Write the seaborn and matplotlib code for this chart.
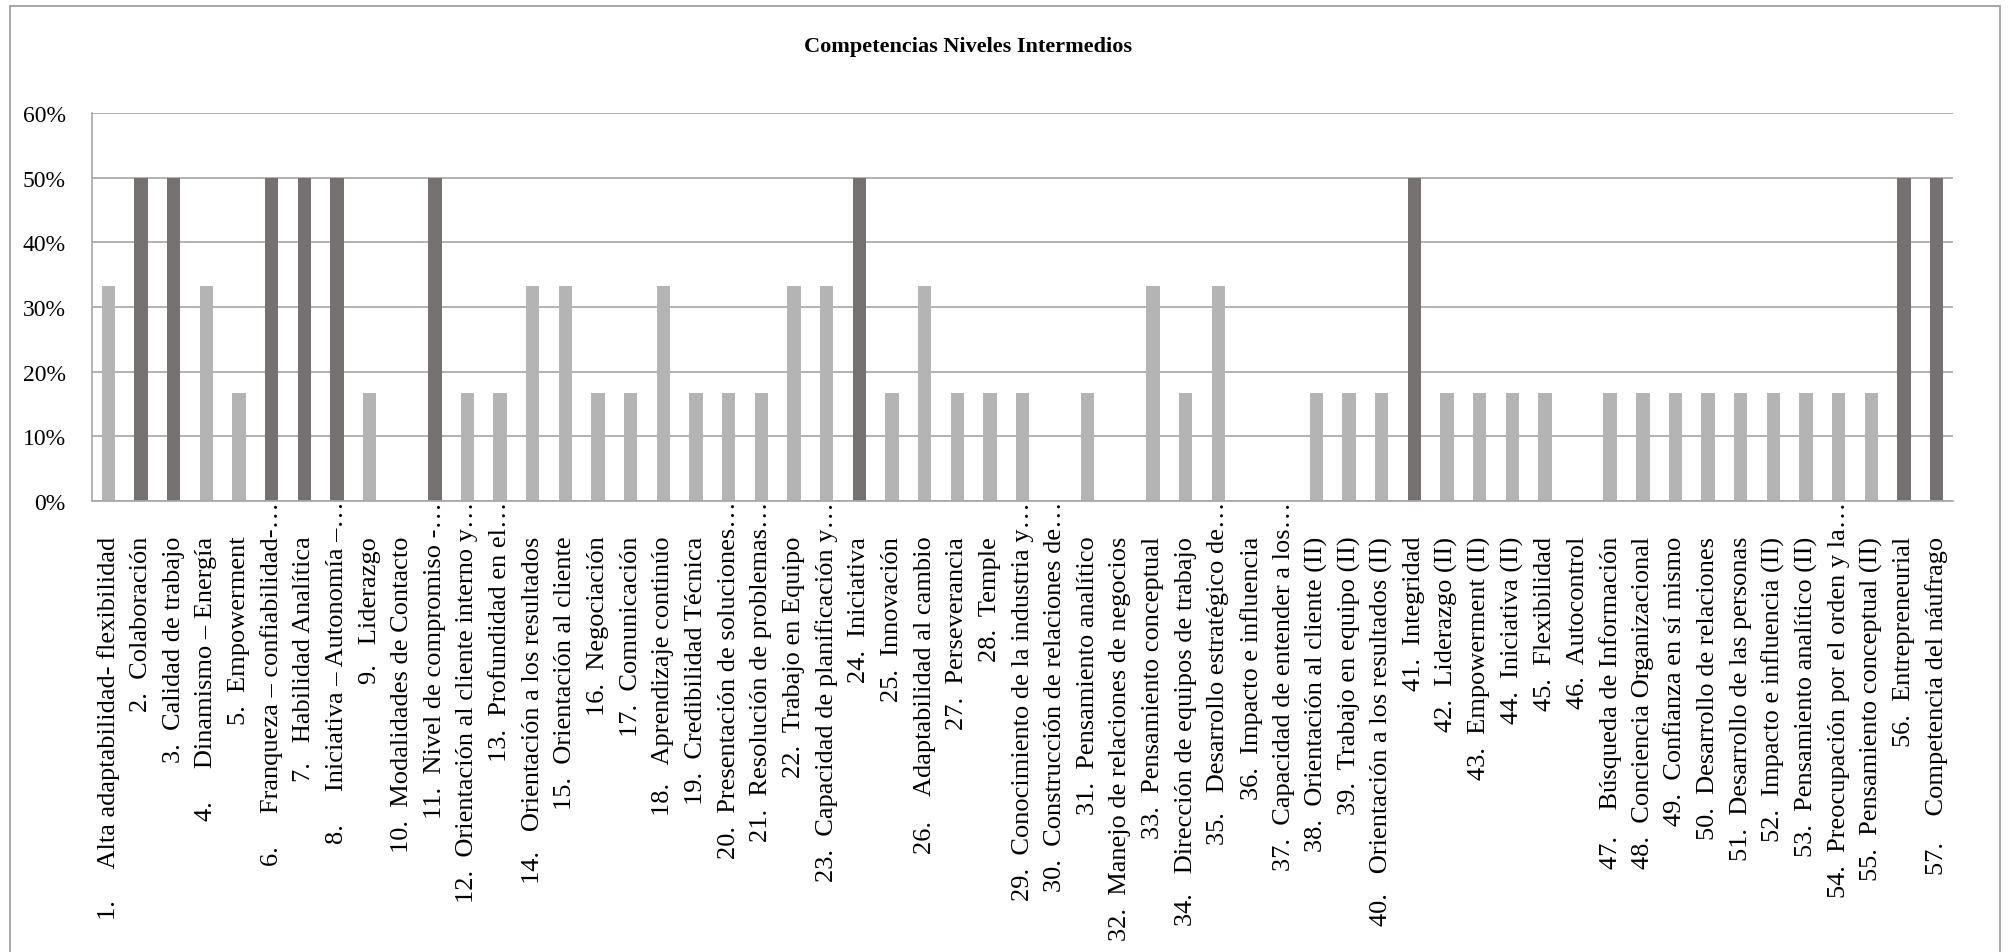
import matplotlib
matplotlib.use("Agg")
import matplotlib.pyplot as plt
import seaborn as sns
import pandas as pd
from matplotlib.patches import Rectangle
from matplotlib.ticker import PercentFormatter

# Competency labels (numbered as in the source list; long names are cut with "…")
competencias = [
    "1.     Alta adaptabilidad- flexibilidad",
    "2.  Colaboración",
    "3.  Calidad de trabajo",
    "4.     Dinamismo – Energía",
    "5.  Empowerment",
    "6.     Franqueza – confiabilidad-…",
    "7.   Habilidad Analítica",
    "8.     Iniciativa – Autonomía –…",
    "9.   Liderazgo",
    "10.  Modalidades de Contacto",
    "11.  Nivel de compromiso -…",
    "12.  Orientación al cliente interno y…",
    "13.  Profundidad en el…",
    "14.   Orientación a los resultados",
    "15.  Orientación al cliente",
    "16.  Negociación",
    "17.  Comunicación",
    "18.   Aprendizaje continúo",
    "19.  Credibilidad Técnica",
    "20.  Presentación de soluciones…",
    "21.  Resolución de problemas…",
    "22.  Trabajo en Equipo",
    "23.  Capacidad de planificación y…",
    "24.  Iniciativa",
    "25.  Innovación",
    "26.    Adaptabilidad al cambio",
    "27.  Perseverancia",
    "28.  Temple",
    "29.  Conocimiento de la industria y…",
    "30.  Construcción de relaciones de…",
    "31.  Pensamiento analítico",
    "32.  Manejo de relaciones de negocios",
    "33.  Pensamiento conceptual",
    "34.   Dirección de equipos de trabajo",
    "35.   Desarrollo estratégico de…",
    "36.  Impacto e influencia",
    "37.  Capacidad de entender a los…",
    "38.  Orientación al cliente (II)",
    "39.  Trabajo en equipo (II)",
    "40.   Orientación a los resultados (II)",
    "41.  Integridad",
    "42.  Liderazgo (II)",
    "43.  Empowerment (II)",
    "44.  Iniciativa (II)",
    "45.  Flexibilidad",
    "46.  Autocontrol",
    "47.    Búsqueda de Información",
    "48.  Conciencia Organizacional",
    "49.  Confianza en sí mismo",
    "50.  Desarrollo de relaciones",
    "51.  Desarrollo de las personas",
    "52.  Impacto e influencia (II)",
    "53.  Pensamiento analítico (II)",
    "54.  Preocupación por el orden y la…",
    "55.  Pensamiento conceptual (II)",
    "56.  Entrepreneurial",
    "57.    Competencia del náufrago",
]

porcentajes = [
    0.333, 0.5, 0.5, 0.333, 0.167, 0.5, 0.5, 0.5, 0.167, 0.0,
    0.5, 0.167, 0.167, 0.333, 0.333, 0.167, 0.167, 0.333, 0.167, 0.167,
    0.167, 0.333, 0.333, 0.5, 0.167, 0.333, 0.167, 0.167, 0.167, 0.0,
    0.167, 0.0, 0.333, 0.167, 0.333, 0.0, 0.0, 0.167, 0.167, 0.167,
    0.5, 0.167, 0.167, 0.167, 0.167, 0.0, 0.167, 0.167, 0.167, 0.167,
    0.167, 0.167, 0.167, 0.167, 0.167, 0.5, 0.5,
]

titulo = "Competencias Niveles Intermedios"

sns.set_theme(style="white")
plt.rcParams["font.family"] = ["Liberation Serif", "DejaVu Serif"]

df = pd.DataFrame({"competencia": competencias, "porcentaje": porcentajes})
df["grupo"] = ["alto" if p >= 0.5 else "resto" for p in porcentajes]

W, H = 2011, 953
fig = plt.figure(figsize=(W / 100, H / 100), dpi=100, facecolor="white")
left, right, top, bottom = 92, 1953, 114, 502
ax = fig.add_axes([left / W, 1 - bottom / H, (right - left) / W, (bottom - top) / H])

sns.barplot(
    data=df, x="competencia", y="porcentaje", hue="grupo", order=competencias,
    palette={"alto": "#767171", "resto": "#b4b4b4"}, dodge=False, width=0.41,
    saturation=1, linewidth=0, legend=False, ax=ax,
)

grid_color = "#a6a6a6"
ax.set_xlim(-0.5, len(competencias) - 0.5)
ax.set_ylim(0, 0.6)
ax.set_yticks([0, 0.1, 0.2, 0.3, 0.4, 0.5, 0.6])
ax.yaxis.set_major_formatter(PercentFormatter(1.0, decimals=0))
ax.yaxis.grid(True, color=grid_color, linewidth=1.2)
ax.set_axisbelow(True)
for side in ("top", "right"):
    ax.spines[side].set_visible(False)
for side in ("left", "bottom"):
    ax.spines[side].set_color(grid_color)
    ax.spines[side].set_linewidth(1.2)
ax.set_xlabel("")
ax.set_ylabel("")

ax.tick_params(axis="y", length=0, pad=19, labelsize=17, labelcolor="black")
ax.tick_params(axis="x", length=0, pad=25, labelsize=19, labelcolor="black")
ax.set_xticks(range(len(competencias)))
ax.set_xticklabels(competencias, rotation=90, va="top", ha="center")

# names cut with an ellipsis sit closer to the axis
for lbl in ax.get_xticklabels():
    if lbl.get_text().endswith("…"):
        lbl.set_y(35 / (bottom - top))

fig.text(968 / W, 1 - 52 / H, titulo, ha="center", va="baseline",
         fontsize=16, fontweight="bold", color="black")

fig.add_artist(Rectangle((10 / W, -0.02), (2000 - 10) / W, 1.02 - 7 / H,
                         transform=fig.transFigure, fill=False,
                         edgecolor="#a0a0a0", linewidth=1.3))

fig.savefig("out.png", dpi=100, facecolor="white")
